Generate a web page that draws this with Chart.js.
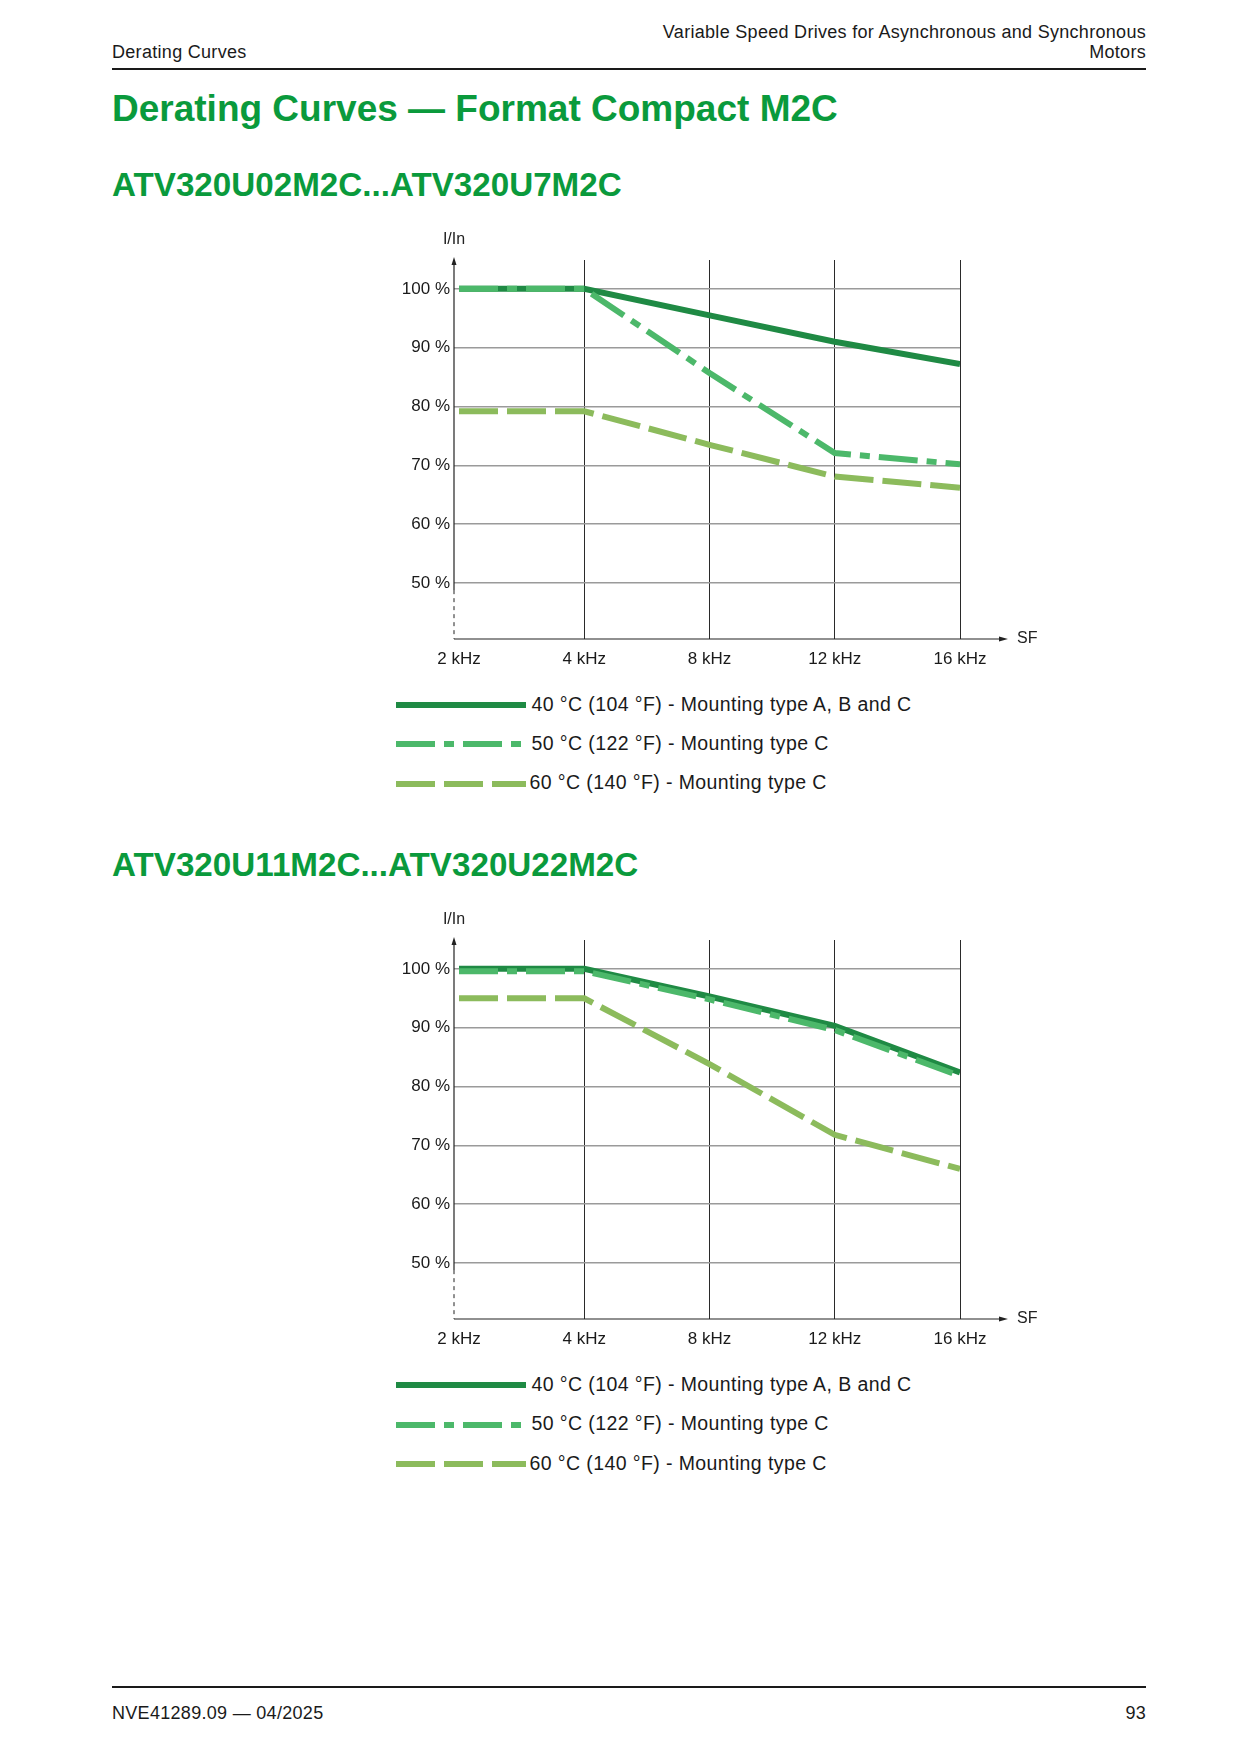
<!DOCTYPE html>
<html>
<head>
<meta charset="utf-8">
<script src="https://cdn.jsdelivr.net/npm/chart.js@4.4.1/dist/chart.umd.min.js"></script>
<style>
  html, body { margin: 0; padding: 0; background: #fff; }
  #page { position: relative; width: 1241px; height: 1754px; font-family: "Liberation Sans", Arial, sans-serif; color: #1a1a1a; }
  .t { position: absolute; white-space: nowrap; }
  .hd { font-size: 18px; line-height: 18px; letter-spacing: 0.3px; }
  .title { font-size: 37px; line-height: 37px; font-weight: bold; color: #0a9a3c; }
  .sub { font-size: 33.2px; line-height: 33.2px; font-weight: bold; color: #0a9a3c; }
  .rule { position: absolute; left: 112px; width: 1034px; height: 2px; background: #1a1a1a; }
  .chartbox { position: absolute; left: 340px; width: 720px; height: 470px; }
  .leg { position: absolute; left: 396px; }
  .leg svg { position: absolute; left: 0; }
  .leg .lt { font-size: 19.5px; line-height: 19.5px; letter-spacing: 0.4px; }
</style>
</head>
<body>
<div id="page">
  <div class="t hd" style="left:112px; top:42.5px;">Derating Curves</div>
  <div class="t hd" style="right:95px; top:22.5px;">Variable Speed Drives for Asynchronous and Synchronous</div>
  <div class="t hd" style="right:95px; top:42.5px;">Motors</div>
  <div class="rule" style="top:67.5px;"></div>

  <div class="t title" style="left:112px; top:90.4px;">Derating Curves — Format Compact M2C</div>

  <div class="t sub" style="left:112px; top:167.6px;">ATV320U02M2C...ATV320U7M2C</div>
  <div class="chartbox" style="top:220px;"><canvas id="chart1"></canvas></div>
  <div id="legend1"></div>

  <div class="t sub" style="left:112px; top:847.6px;">ATV320U11M2C...ATV320U22M2C</div>
  <div class="chartbox" style="top:900px;"><canvas id="chart2"></canvas></div>
  <div id="legend2"></div>

  <div class="rule" style="top:1685.5px;"></div>
  <div class="t hd" style="left:112px; top:1704.3px;">NVE41289.09 — 04/2025</div>
  <div class="t hd" style="right:95px; top:1704.3px;">93</div>
</div>

<script>
// switching frequency categories and I/In ticks
const freqLabels = ["2 kHz", "4 kHz", "8 kHz", "12 kHz", "16 kHz"];
const yTicks = [50, 60, 70, 80, 90, 100];

const seriesNames = [
  "40 °C (104 °F) - Mounting type A, B and C",
  "50 °C (122 °F) - Mounting type C",
  "60 °C (140 °F) - Mounting type C"
];

// ATV320U02M2C...ATV320U7M2C
const c1_40 = [100, 100, 95.5, 91.0, 87.2];
const c1_50 = [100, 100, 85.7, 72.1, 70.2];
const c1_60 = [79.2, 79.2, 73.5, 68.1, 66.2];

// ATV320U11M2C...ATV320U22M2C
const c2_40 = [100, 100, 95.3, 90.3, 82.4];
const c2_50 = [99.6, 99.6, 94.8, 89.6, 81.8];
const c2_60 = [95.0, 95.0, 83.8, 71.8, 66.0];

const colors = ["#1f8a44", "#4cb86a", "#8cbb5c"];
const dashes = [[], [39, 9, 10, 9], [39, 9]];

Chart.defaults.font.family = '"Liberation Sans", Arial, sans-serif';
Chart.defaults.color = "#1a1a1a";

// y axis with broken (dashed) bottom part, arrows, axis names
const axisPlugin = {
  id: "axisArrows",
  beforeDatasetsDraw(chart) {
    const ctx = chart.ctx;
    const a = chart.chartArea;
    const x0 = a.left, yB = a.bottom;
    const yBreak = chart.scales.y.getPixelForValue(48.8);
    const xEnd = a.right + 48;
    ctx.save();
    ctx.strokeStyle = "#222";
    ctx.fillStyle = "#222";
    ctx.lineWidth = 1.2;
    ctx.beginPath();
    ctx.moveTo(x0, a.top + 3);
    ctx.lineTo(x0, yBreak);
    ctx.stroke();
    ctx.setLineDash([4, 4]);
    ctx.lineWidth = 1;
    ctx.beginPath();
    ctx.moveTo(x0, yBreak);
    ctx.lineTo(x0, yB);
    ctx.stroke();
    ctx.setLineDash([]);
    ctx.lineWidth = 1.2;
    ctx.beginPath();
    ctx.moveTo(x0, yB);
    ctx.lineTo(xEnd - 8, yB);
    ctx.stroke();
    // arrow heads
    ctx.beginPath();
    ctx.moveTo(x0, a.top - 3);
    ctx.lineTo(x0 - 2.5, a.top + 5);
    ctx.lineTo(x0 + 2.5, a.top + 5);
    ctx.closePath();
    ctx.fill();
    ctx.beginPath();
    ctx.moveTo(xEnd, yB);
    ctx.lineTo(xEnd - 9, yB - 2.5);
    ctx.lineTo(xEnd - 9, yB + 2.5);
    ctx.closePath();
    ctx.fill();
    // axis names
    ctx.font = '16px "Liberation Sans", Arial, sans-serif';
    ctx.textBaseline = "middle";
    ctx.textAlign = "center";
    ctx.fillText("I/In", x0, a.top - 20);
    ctx.textAlign = "left";
    ctx.fillText("SF", xEnd + 9, yB);
    ctx.restore();
  }
};

function makeChart(id, s40, s50, s60) {
  const values = [s40, s50, s60];
  const order = [3, 2, 1];
  new Chart(document.getElementById(id), {
    type: "line",
    data: {
      datasets: values.map((v, i) => ({
        label: seriesNames[i],
        // x = position of the frequency in freqLabels
        data: v.map((y, k) => ({ x: k, y: y })),
        borderColor: colors[i],
        borderWidth: 6,
        borderDash: dashes[i],
        borderCapStyle: "butt",
        pointRadius: 0,
        tension: 0,
        fill: false,
        order: order[i]
      }))
    },
    options: {
      responsive: true,
      maintainAspectRatio: false,
      animation: false,
      layout: { padding: { top: 40, right: 100, left: 0, bottom: 0 } },
      plugins: {
        legend: { display: false },
        tooltip: { enabled: false }
      },
      scales: {
        x: {
          type: "linear",
          min: -0.04,
          max: freqLabels.length - 1,
          border: { display: false },
          grid: {
            drawTicks: false,
            color: c => (c.index === 0 ? "rgba(0,0,0,0)" : "#2a2a2a"),
            lineWidth: 1
          },
          ticks: {
            padding: 10, font: { size: 17 }, color: "#1a1a1a", maxRotation: 0, autoSkip: false,
            callback: v => freqLabels[v]
          },
          afterBuildTicks: s => { s.ticks = freqLabels.map((_, k) => ({ value: k })); },
          afterFit: s => { s.height = 51; }
        },
        y: {
          min: 40.5,
          max: 104.9,
          border: { display: false },
          grid: { drawTicks: false, color: "#9a9a9a", lineWidth: 1.5 },
          ticks: { padding: 4, font: { size: 17 }, color: "#1a1a1a", callback: v => v + " %" },
          afterBuildTicks: s => { s.ticks = yTicks.map(v => ({ value: v })); },
          afterFit: s => { s.width = 114; }
        }
      }
    },
    plugins: [axisPlugin]
  });
}

function makeLegend(id, top) {
  const box = document.getElementById(id);
  seriesNames.forEach((name, i) => {
    const cy = top + i * 39.3;
    const row = document.createElement("div");
    row.className = "leg";
    row.style.top = (cy - 10) + "px";
    const dash = dashes[i].length ? dashes[i].join(" ") : "none";
    row.innerHTML =
      '<svg width="130" height="20"><line x1="0" y1="10" x2="130" y2="10" stroke="' + colors[i] +
      '" stroke-width="6" stroke-dasharray="' + dash + '"/></svg>' +
      '<div class="t lt" style="left:' + (i === 2 ? 133.5 : 135.5) + 'px; top:' + (16 - 0.8465 * 19.5) + 'px;">' + name + '</div>';
    box.appendChild(row);
  });
}

makeChart("chart1", c1_40, c1_50, c1_60);
makeChart("chart2", c2_40, c2_50, c2_60);
makeLegend("legend1", 705);
makeLegend("legend2", 1385.4);
</script>
</body>
</html>
